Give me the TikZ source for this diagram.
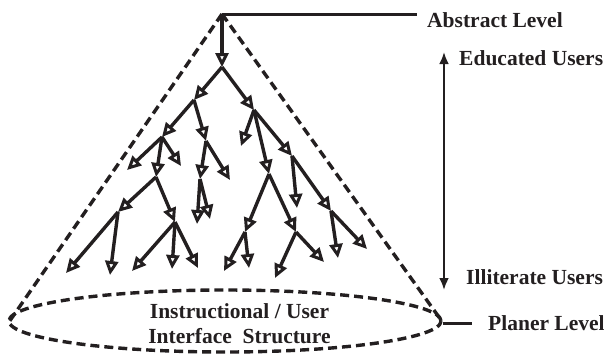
\documentclass[tikz,border=0pt]{standalone}
\usepackage{fontspec}
\setmainfont{Liberation Serif}
\usetikzlibrary{arrows.meta,shapes.geometric}
\definecolor{ink}{HTML}{231F20}
\tikzset{
  branch/.style={draw=ink, line width=3.4pt, -{Triangle[open,length=14pt,width=13pt,line width=3pt]}},
  cone/.style={draw=ink, line width=3.4pt, dash pattern=on 9pt off 5pt},
  levelline/.style={draw=ink, line width=3pt},
  userarrow/.style={draw=ink, line width=2.6pt, {Latex[length=12pt,width=10pt]}-{Latex[length=12pt,width=10pt]}},
  lbl/.style={font=\fontsize{21.5}{24}\selectfont\bfseries, inner sep=0pt, text=ink}
}
\begin{document}
\begin{tikzpicture}[x=1pt,y=-1pt]
\useasboundingbox (0,0) rectangle (604,354);
% tree points
\coordinate (P) at (222,14);
\coordinate (A) at (222,67);
\coordinate (B) at (194,100);
\coordinate (C) at (254,110);
\coordinate (B1) at (162,137);
\coordinate (B2) at (206,141);
\coordinate (C1) at (241,146);
\coordinate (F) at (269,174);
\coordinate (G) at (292,156);
\coordinate (B1a) at (127,170);
\coordinate (D) at (156,177);
\coordinate (B1c) at (181,166);
\coordinate (E) at (200,179);
\coordinate (B2b) at (230,180);
\coordinate (D1) at (118,212);
\coordinate (D2) at (175,222);
\coordinate (E1) at (197,224);
\coordinate (E2) at (210,219);
\coordinate (D1a) at (66,273);
\coordinate (D1b) at (110,275);
\coordinate (D2a) at (132,271);
\coordinate (D2b) at (172,269);
\coordinate (D2c) at (198,268);
\coordinate (F1) at (245,232);
\coordinate (F2) at (296,232);
\coordinate (F1a) at (224,271);
\coordinate (F1b) at (249,268);
\coordinate (F2a) at (275,278);
\coordinate (F2b) at (324,262);
\coordinate (G1) at (331,211);
\coordinate (Gd) at (297,208);
\coordinate (G1a) at (338,258);
\coordinate (G1b) at (367,249);
% cone and base
\coordinate (L) at (9,322);
\coordinate (R) at (441,320);
\node[draw, cone, ellipse, minimum width=432pt, minimum height=62pt, inner sep=0pt] (base) at (225,321) {};
\draw[cone] (P) -- (L);
\draw[cone] (P) -- (R);
% root
\draw[draw=ink, line width=3.4pt, {Latex[length=6pt,width=7pt]}-{Triangle[open,length=14pt,width=13pt,line width=3pt]}] (P) -- (A);
% branches
\foreach \s/\t in {A/B,A/C,B/B1,B/B2,C/C1,C/F,C/G,B1/B1a,B1/D,B1/B1c,B2/E,B2/B2b,D/D1,D/D2,E/E1,E/E2,D1/D1a,D1/D1b,D2/D2a,D2/D2b,D2/D2c,F/F1,F/F2,F1/F1a,F1/F1b,F2/F2a,F2/F2b,G/Gd,G/G1,G1/G1a,G1/G1b}
  \draw[branch] (\s) -- (\t);
% levels
\coordinate (abend) at (417,14);
\draw[levelline] (P) -- (abend);
\node[lbl, anchor=base west] (abs) at (427,27) {Abstract Level};
\coordinate (plstart) at (443,323);
\coordinate (plend) at (472,323);
\draw[levelline] (plstart) -- (plend);
\node[lbl, anchor=base west] (pl) at (488,330) {Planer Level};
% users
\coordinate (utop) at (444,52);
\coordinate (ubot) at (444,290);
\draw[userarrow] (utop) -- (ubot);
\node[lbl, anchor=base west] (edu) at (459,65) {Educated Users};
\node[lbl, anchor=base west] (ill) at (466,284) {Illiterate Users};
% base text
\node[lbl, anchor=base] (t1) at (239.5,318) {Instructional / User};
\node[lbl, anchor=base] (t2) at (239.5,343) {Interface\ \ Structure};
\end{tikzpicture}
\end{document}
